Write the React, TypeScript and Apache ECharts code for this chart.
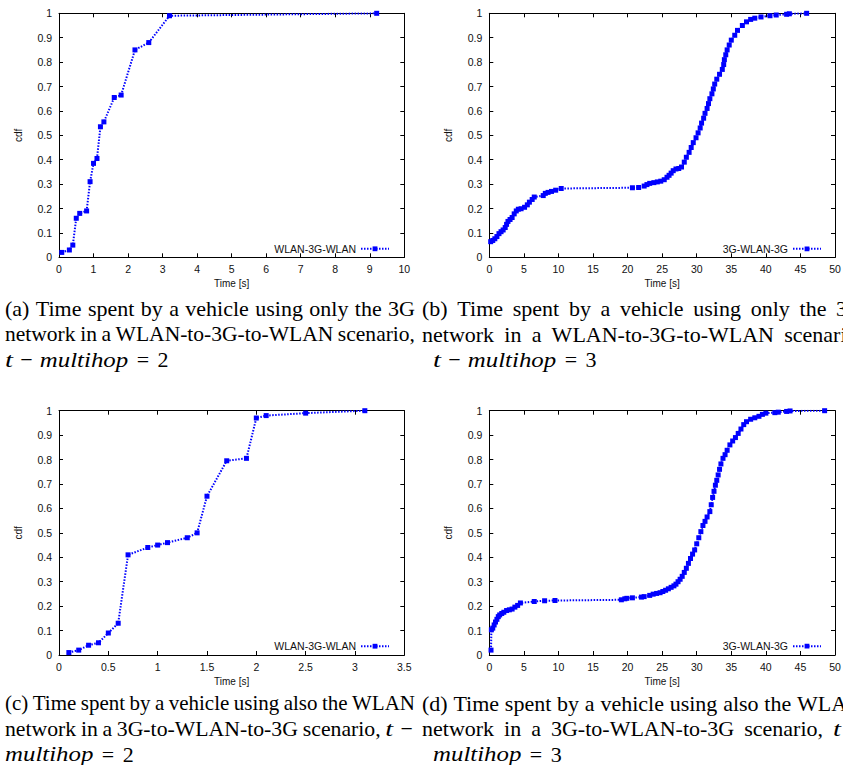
import React, { useEffect, useRef } from "react";
import * as echarts from "echarts";

// ---------- data ----------
const aTime = [0.08, 0.3, 0.4, 0.5, 0.6, 0.8, 0.9, 1.0, 1.1, 1.2, 1.3, 1.6, 1.8, 2.2, 2.6, 3.2, 9.2];
const aCdf = [0.02, 0.03, 0.05, 0.16, 0.18, 0.19, 0.31, 0.385, 0.405, 0.535, 0.555, 0.655, 0.665, 0.85, 0.88, 0.99, 1.0];

const bTime = [
  0.2, 0.5, 0.8, 1.1, 1.4, 1.7, 2.0, 2.3, 2.5, 2.7, 3.0, 3.3, 3.6, 3.9, 4.2, 4.6, 5.1, 5.5, 5.8, 6.2, 6.5,
  7.8, 8.1, 8.5, 9.0, 9.6, 10.4,
  20.7, 21.6, 22.4, 22.8, 23.2, 23.8, 24.3, 24.8, 25.3, 25.7, 26.0, 26.3, 26.6, 27.0, 27.4,
  27.8, 28.2, 28.5, 28.9, 29.2, 29.5, 29.9, 30.2, 30.5, 30.7, 31.0, 31.2, 31.5, 31.7, 31.9, 32.2, 32.4, 32.6,
  32.9, 33.3, 33.7, 33.9, 34.0, 34.2, 34.4, 34.7, 35.0, 35.5, 35.9, 36.6, 37.2, 37.8, 38.4, 39.3, 40.6, 41.5,
  43.0, 43.4, 45.9,
];
const bCdf = [
  0.064, 0.069, 0.076, 0.085, 0.097, 0.105, 0.112, 0.122, 0.135, 0.147, 0.155, 0.163, 0.178, 0.19, 0.197, 0.199,
  0.205, 0.215, 0.226, 0.237, 0.247,
  0.253, 0.262, 0.266, 0.27, 0.275, 0.282,
  0.285, 0.286, 0.292, 0.298, 0.303, 0.306, 0.309, 0.312, 0.318, 0.328, 0.336, 0.345, 0.355, 0.362, 0.364,
  0.37, 0.39, 0.41, 0.43, 0.45, 0.47, 0.49, 0.51, 0.53, 0.55, 0.57, 0.59, 0.61, 0.63, 0.65, 0.67, 0.69, 0.71,
  0.73, 0.75, 0.77, 0.79, 0.81, 0.83, 0.85, 0.87, 0.89, 0.91, 0.93, 0.95, 0.965, 0.975, 0.98, 0.985, 0.99, 0.993,
  0.996, 0.998, 1.0,
];

const cTime = [0.1, 0.2, 0.3, 0.4, 0.5, 0.6, 0.7, 0.9, 1.0, 1.1, 1.3, 1.4, 1.5, 1.7, 1.9, 2.0, 2.1, 2.5, 3.1];
const cCdf = [0.01, 0.02, 0.04, 0.05, 0.09, 0.13, 0.41, 0.44, 0.45, 0.46, 0.48, 0.5, 0.65, 0.795, 0.805, 0.97, 0.98, 0.99, 1.0];

const dTime = [
  0.25, 0.3, 0.5, 0.7, 0.9, 1.1, 1.3, 1.5, 1.8, 2.1, 2.5, 2.9, 3.3, 3.7, 4.1, 4.5, 6.5, 8.0, 9.5,
  19.1, 19.6, 19.9, 20.7, 22.0, 22.4, 23.2, 23.7, 24.2, 24.7, 25.1, 25.5, 25.9, 26.3, 26.7, 27.0, 27.3, 27.6,
  27.9, 28.2, 28.5, 28.8, 29.1, 29.4, 29.7, 30.0, 30.3, 30.6, 30.9, 31.2, 31.5, 31.9, 32.1, 32.3, 32.5, 32.7,
  32.9, 33.1, 33.3, 33.5, 33.8, 34.1, 34.4, 34.8, 35.2, 35.6, 36.0, 36.4, 36.8, 37.2, 37.8, 38.4, 39.0, 39.5,
  40.0, 41.3, 41.8, 43.0, 43.5, 48.5,
];
const dCdf = [
  0.02, 0.103, 0.11, 0.123, 0.135, 0.146, 0.157, 0.164, 0.17, 0.175, 0.182, 0.185, 0.188, 0.196, 0.203, 0.213,
  0.219, 0.222, 0.223,
  0.226, 0.23, 0.232, 0.234, 0.237, 0.239, 0.244, 0.249, 0.252, 0.255, 0.26, 0.265, 0.271, 0.277, 0.283, 0.29,
  0.3, 0.31, 0.322, 0.338, 0.355, 0.375, 0.395, 0.413, 0.43, 0.455, 0.48, 0.505, 0.53, 0.547, 0.565, 0.587,
  0.615, 0.645, 0.67, 0.695, 0.715, 0.737, 0.76, 0.782, 0.805, 0.82, 0.838, 0.86, 0.876, 0.89, 0.907, 0.925,
  0.943, 0.955, 0.965, 0.971, 0.977, 0.985, 0.99, 0.992, 0.994, 0.997, 0.999, 1.0,
];

const seriesNames = ["WLAN-3G-WLAN", "3G-WLAN-3G", "WLAN-3G-WLAN", "3G-WLAN-3G"];
const xMaxes = [10, 50, 3.5, 50];
const xSteps = [1, 5, 0.5, 5];
const xAxisTitle = "Time [s]";
const yAxisTitle = "cdf";

const captionA = ["(a) Time spent by a vehicle using only the 3G", "network in a WLAN-to-3G-to-WLAN scenario,"];
const captionB = ["(b) Time spent by a vehicle using only the 3G", "network in a WLAN-to-3G-to-WLAN scenario,"];
const captionC = ["(c) Time spent by a vehicle using also the WLAN", "network in a 3G-to-WLAN-to-3G scenario,"];
const captionD = ["(d) Time spent by a vehicle using also the WLAN", "network in a 3G-to-WLAN-to-3G scenario,"];
const hopValues = ["2", "3", "2", "3"];

// ---------- layout ----------
const W = 843;
const H = 765;
const SANS = "Liberation Sans, Arial, Helvetica, sans-serif";
const FS = 22;
const panels = [
  { left: 59, top: 13.3, width: 345.3, height: 244 },
  { left: 489.3, top: 13.3, width: 345.7, height: 244 },
  { left: 59, top: 410.7, width: 345.3, height: 244.3 },
  { left: 489.3, top: 410.7, width: 345.7, height: 244.3 },
];
const legendRight = [453, 21, 453, 21];
const legendCenter = [249.3, 249.3, 646.7, 646.7];

// advance widths (per 1000 em) of the math font used in the captions
const CM: Record<string, number> = {
  m: 878, u: 572, l: 298, t: 361, i: 345, h: 576, o: 485, p: 503,
  "−": 778, "=": 778, "2": 500, "3": 500,
};

type Piece = { t: string; it?: boolean; pre?: number; adv?: number; fit?: boolean };
type Word = Piece[];

function fontOf(it?: boolean) {
  return `${it ? "italic " : ""}${FS}px "Liberation Serif", "Times New Roman", serif`;
}

function buildCaptions(): any[] {
  const canvas = document.createElement("canvas");
  const ctx = canvas.getContext("2d") as CanvasRenderingContext2D;
  const measure = (t: string, it?: boolean) => {
    ctx.font = fontOf(it);
    return ctx.measureText(t).width;
  };
  const out: any[] = [];
  const med = (4 / 18) * FS;
  const thick = (5 / 18) * FS;
  const cmw = (s: string) => (s.split("").reduce((a, c) => a + CM[c], 0) * FS) / 1000;
  const sym = (c: string, pre = 0, it = false): Piece => ({ t: c, it, pre, adv: cmw(c) });
  const ital = (s: string, pre = 0): Piece => ({ t: s, it: true, pre, adv: cmw(s), fit: true });

  const pieceW = (p: Piece) => (p.adv !== undefined ? p.adv : measure(p.t, p.it));
  const wordW = (w: Word) => w.reduce((acc, p) => acc + (p.pre || 0) + pieceW(p), 0);
  const txt = (t: string, x: number, y: number, align: string, it: boolean | undefined, s: number) => ({
    type: "text",
    x,
    y,
    scaleX: s,
    silent: true,
    style: {
      text: t,
      fontSize: FS,
      fontFamily: "Liberation Serif",
      fontStyle: it ? "italic" : "normal",
      fill: "#000",
      align,
      verticalAlign: "middle",
    },
  });
  const placeWord = (w: Word, x: number, y: number, s: number) => {
    let cx = x;
    for (const p of w) {
      cx += (p.pre || 0) * s;
      const pw = pieceW(p) * s;
      if (p.fit) {
        const nat = measure(p.t, p.it);
        out.push(txt(p.t, cx, y, "left", p.it, (s * (p.adv as number)) / nat));
      } else if (p.adv !== undefined) out.push(txt(p.t, cx + pw / 2, y, "center", p.it, s));
      else out.push(txt(p.t, cx, y, "left", p.it, s));
      cx += pw;
    }
  };
  const justify = (words: Word[], x0: number, x1: number, y: number) => {
    const ws = words.map(wordW);
    const sum = ws.reduce((a, b) => a + b, 0);
    const n = words.length;
    const space = FS * 0.25;
    const s = Math.min(1, (x1 - x0) / (sum + (n - 1) * space * 0.85));
    const gap = (x1 - x0 - sum * s) / (n - 1);
    let x = x0;
    words.forEach((w, k) => {
      placeWord(w, x, y, s);
      x += ws[k] * s + gap;
    });
  };
  const plainWords = (line: string): Word[] => line.split(" ").map((t) => [{ t }]);

  const cols = [
    [5, 415],
    [422, 863],
  ];
  const mathX = [5, 433];
  const rowsTop = [308.5, 334, 359.5];
  const rowsBot = [703, 728.5, 754];

  [captionA, captionB].forEach((cap, k) => {
    const [x0, x1] = cols[k];
    justify(plainWords(cap[0]), x0, x1, rowsTop[0]);
    justify(plainWords(cap[1]), x0, x1, rowsTop[1]);
    const math: Word = [
      ital("t"),
      sym("−", med),
      ital("multihop", med),
      sym("=", thick),
      sym(hopValues[k], thick),
    ];
    placeWord(math, mathX[k], rowsTop[2], 1);
  });
  [captionC, captionD].forEach((cap, k) => {
    const [x0, x1] = cols[k];
    justify(plainWords(cap[0]), x0, x1, rowsBot[0]);
    const l2 = plainWords(cap[1]);
    l2.push([ital("t"), sym("−", med)]);
    justify(l2, x0, x1, rowsBot[1]);
    const math: Word = [ital("multihop"), sym("=", thick), sym(hopValues[k + 2], thick)];
    placeWord(math, mathX[k], rowsBot[2], 1);
  });
  return out;
}

function buildOption(): any {
  const datasets = [
    [aTime, aCdf],
    [bTime, bCdf],
    [cTime, cCdf],
    [dTime, dCdf],
  ];
  const labelStyle = { fontSize: 10.5, fontFamily: SANS, color: "#111" };
  const line = { show: true, onZero: false, lineStyle: { color: "#000", width: 1 } };
  const tick = { show: true, inside: true, length: 4, lineStyle: { color: "#000", width: 1 } };
  const xAxis: any[] = [];
  const yAxis: any[] = [];
  panels.forEach((_, i) => {
    const common = { type: "value", gridIndex: i, min: 0, max: xMaxes[i], interval: xSteps[i], splitLine: { show: false } };
    xAxis.push({
      ...common,
      position: "bottom",
      name: xAxisTitle,
      nameLocation: "middle",
      nameGap: 21,
      nameTextStyle: { ...labelStyle, fontSize: 10 },
      axisLine: line,
      axisTick: tick,
      axisLabel: { ...labelStyle, margin: 6 },
    });
    xAxis.push({ ...common, position: "top", axisLine: line, axisTick: tick, axisLabel: { show: false } });
    const ycommon = { type: "value", gridIndex: i, min: 0, max: 1, interval: 0.1, splitLine: { show: false } };
    yAxis.push({
      ...ycommon,
      position: "left",
      name: yAxisTitle,
      nameLocation: "middle",
      nameGap: 36,
      nameRotate: 90,
      nameTextStyle: { ...labelStyle, fontSize: 10 },
      axisLine: line,
      axisTick: tick,
      axisLabel: { ...labelStyle, margin: 7 },
    });
    yAxis.push({ ...ycommon, position: "right", axisLine: line, axisTick: tick, axisLabel: { show: false } });
  });
  return {
    animation: false,
    backgroundColor: "#ffffff",
    grid: panels.map((p) => ({ ...p, containLabel: false, outerBoundsMode: "none", show: false })),
    xAxis,
    yAxis,
    legend: panels.map((_, i) => ({
      data: [seriesNames[i]],
      right: legendRight[i],
      top: legendCenter[i] - 6,
      align: "right",
      orient: "horizontal",
      padding: 0,
      itemWidth: 28,
      itemHeight: 6,
      selectedMode: false,
      textStyle: { ...labelStyle },
    })),
    series: datasets.map(([xs, ys], i) => ({
      type: "line",
      name: seriesNames[i],
      xAxisIndex: 2 * i,
      yAxisIndex: 2 * i,
      data: xs.map((x, k) => [x, ys[k]]),
      symbol: "rect",
      symbolSize: 5,
      showAllSymbol: true,
      silent: true,
      itemStyle: { color: "#0000ff" },
      lineStyle: { color: "#0000ff", width: 2, type: [1.5, 1.5] },
    })),
    graphic: { elements: buildCaptions() },
  };
}

export default function App() {
  const ref = useRef<HTMLDivElement>(null);
  useEffect(() => {
    if (!ref.current) return;
    const chart = echarts.init(ref.current, undefined, { renderer: "svg", width: W, height: H });
    chart.setOption(buildOption());
    return () => chart.dispose();
  }, []);
  return <div ref={ref} style={{ position: "absolute", left: 0, top: 0, width: W, height: H, background: "#fff" }} />;
}
